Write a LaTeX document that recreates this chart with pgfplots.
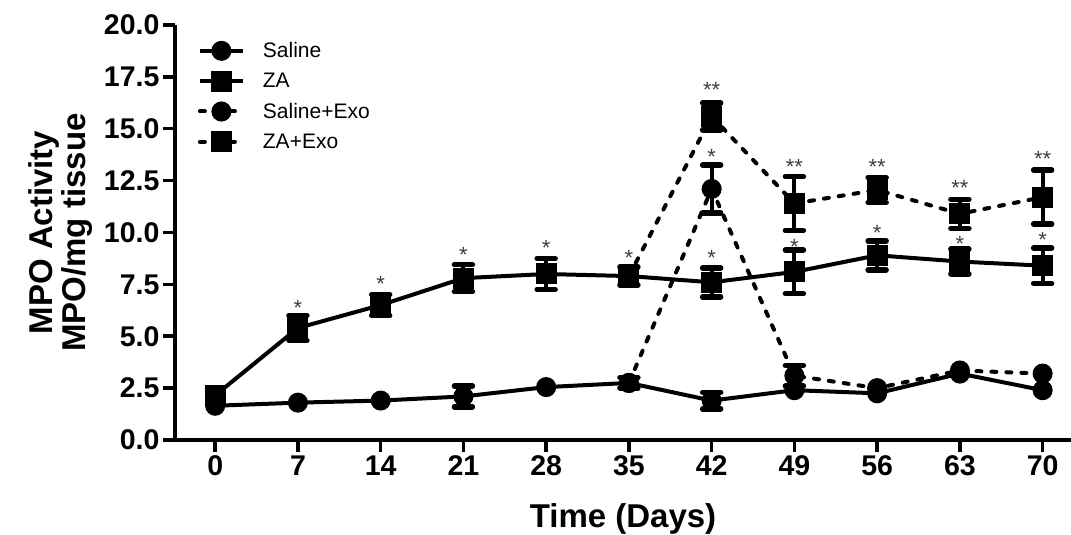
\documentclass[border=0pt]{standalone}
\usepackage{pgfplots}
\pgfplotsset{compat=1.18}
\usepackage{fontspec}
\setmainfont{Liberation Sans}

\pgfplotstableread{
x y
0 1.65
7 1.8
14 1.9
21 2.1
28 2.55
35 2.75
42 1.9
49 2.4
56 2.25
63 3.2
70 2.4
}\saline
\pgfplotstableread{
x y e
21 2.1 0.5
35 2.75 0.25
42 1.9 0.4
}\salineerr
\pgfplotstableread{
x y
0 2.15
7 5.4
14 6.5
21 7.8
28 8.0
35 7.9
42 7.6
49 8.1
56 8.9
63 8.6
70 8.4
}\za
\pgfplotstableread{
x y e
7 5.4 0.6
14 6.5 0.5
21 7.8 0.65
28 8.0 0.75
35 7.9 0.43
42 7.6 0.7
49 8.1 1.05
56 8.9 0.7
63 8.6 0.6
70 8.4 0.85
}\zaerr
\pgfplotstableread{
x y e
35 2.75 0
42 12.1 1.15
49 3.1 0.5
56 2.5 0
63 3.35 0
70 3.2 0
}\salexo
\pgfplotstableread{
x y e
35 7.9 0
42 15.6 0.65
49 11.4 1.3
56 12.05 0.6
63 10.9 0.7
70 11.7 1.3
}\zaexo
\pgfplotstableread{
x y e
42 12.1 1.15
49 3.1 0.5
}\salexoerr
\pgfplotstableread{
x y e
42 15.6 0.65
49 11.4 1.3
56 12.05 0.6
63 10.9 0.7
70 11.7 1.3
}\zaexoerr

\begin{document}
\begin{tikzpicture}[x=1pt,y=1pt]
\begin{axis}[
  at={(0,0)}, anchor=south west,
  scale only axis, width=896pt, height=415pt,
  xmin=-3.4, xmax=72.4, ymin=0, ymax=20,
  axis x line=bottom, axis y line=left,
  axis line style={-, line width=3.5pt},
  xtick={0,7,14,21,28,35,42,49,56,63,70},
  ytick={0,2.5,5,7.5,10,12.5,15,17.5,20},
  tick align=outside, major tick length=12pt,
  tick style={line width=3.5pt, black},
  /pgf/number format/assume math mode=true,
  yticklabel style={/pgf/number format/.cd, fixed, fixed zerofill, precision=1},
  tick label style={font=\bfseries\fontsize{28.5}{28.5}\selectfont},
  xlabel={Time (Days)},
  ylabel={MPO Activity\\MPO/mg tissue},
  xlabel style={font=\bfseries\fontsize{33}{33}\selectfont, at={(axis description cs:0.5,0)}, anchor=center, yshift=-79pt},
  ylabel style={font=\bfseries\fontsize{33}{33}\selectfont, align=center, at={(axis description cs:-0.128,0.5)}, anchor=center},
  clip=false,
  legend style={at={(axis description cs:0.022,0.968)}, anchor=north west, draw=none, fill=none,
    font=\fontsize{21}{21}\selectfont, row sep=10pt, cells={anchor=west},
    /tikz/every odd column/.append style={column sep=16pt}},
  legend image code/.code={\draw[mark repeat=2,mark phase=2,#1] plot coordinates {(0pt,0pt) (21.5pt,0pt) (43pt,0pt)};},
  every axis plot/.append style={line width=4pt, black},
  eb/.style={only marks, mark=none, forget plot, error bars/.cd, y dir=both, y explicit,
    error bar style={line width=4pt, black, solid},
    error mark options={rotate=90, mark size=9pt, line width=5.5pt, line cap=round, black, solid}},
]
\addplot[eb] table[x=x,y=y,y error=e] {\salineerr};
\addplot[eb] table[x=x,y=y,y error=e] {\zaerr};
\addplot[eb] table[x=x,y=y,y error=e] {\salexoerr};
\addplot[eb] table[x=x,y=y,y error=e] {\zaexoerr};

\addplot[mark=*, mark size=8pt, mark options={solid, fill=black}] table[x=x,y=y] {\saline};
\addlegendentry{Saline}
\addplot[mark=square*, mark size=8.5pt, mark options={solid, fill=black}] table[x=x,y=y] {\za};
\addlegendentry{ZA}
\addplot[mark=*, mark size=8pt, mark options={solid, fill=black}, line cap=round, dash pattern=on 5pt off 10pt] table[x=x,y=y] {\salexo};
\addlegendentry{Saline+Exo}
\addplot[mark=square*, mark size=8.5pt, mark options={solid, fill=black}, line cap=round, dash pattern=on 5pt off 10pt] table[x=x,y=y] {\zaexo};
\addlegendentry{ZA+Exo}

\tikzset{st/.style={font=\fontsize{22}{22}\selectfont, text=black!75, inner sep=0pt, anchor=center, yshift=-5pt}}
\node[st] at (axis cs:7,6.6) {*};
\node[st] at (axis cs:14,7.75) {*};
\node[st] at (axis cs:21,9.15) {*};
\node[st] at (axis cs:28,9.5) {*};
\node[st] at (axis cs:35,9.0) {*};
\node[st] at (axis cs:42,9.0) {*};
\node[st] at (axis cs:49,9.55) {*};
\node[st] at (axis cs:56,10.2) {*};
\node[st] at (axis cs:63,9.7) {*};
\node[st] at (axis cs:70,9.9) {*};
\node[st] at (axis cs:42,13.9) {*};
\node[st] at (axis cs:42,17.1) {**};
\node[st] at (axis cs:49,13.4) {**};
\node[st] at (axis cs:56,13.4) {**};
\node[st] at (axis cs:63,12.4) {**};
\node[st] at (axis cs:70,13.8) {**};
\end{axis}
\pgfresetboundingbox
\path (-175pt,-95pt) rectangle (896pt,440pt);
\end{tikzpicture}
\end{document}
